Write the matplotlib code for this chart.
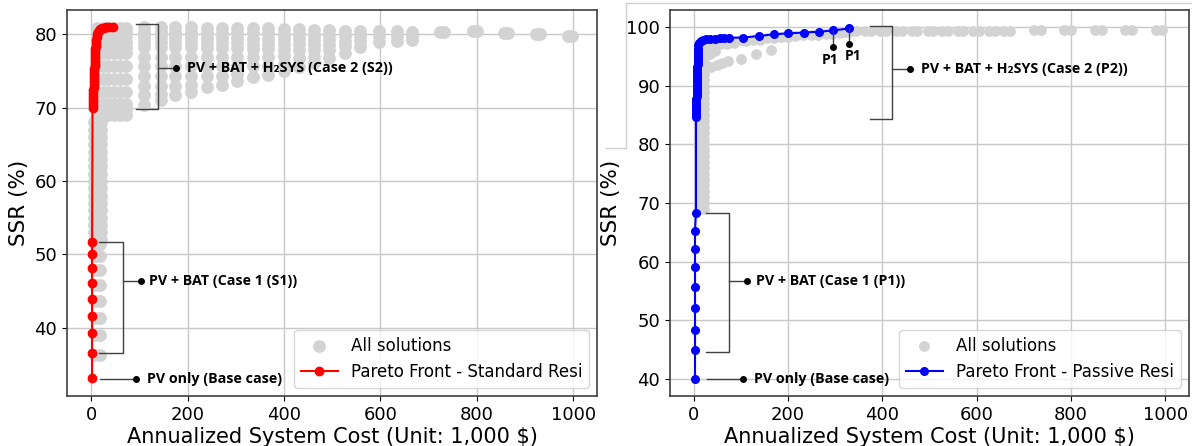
import matplotlib.pyplot as plt
from matplotlib.lines import Line2D
import numpy as np

# ---------------- Standard Resi (left) ----------------
std_front_cost = [2, 2, 2, 2, 2, 2, 2, 2, 2,
                  3, 3.3, 3.6, 3.9, 4.2, 4.5, 4.8, 5.1, 5.4, 5.7, 6, 6.3, 6.6, 6.9, 7.2, 7.5,
                  7.8, 8.1, 8.4, 8.7, 9, 9.5, 10, 10.5, 11.5, 12.5, 14, 16, 19, 22, 26, 31, 37, 45]
std_front_ssr = [33.1, 36.6, 39.3, 41.6, 43.9, 46.1, 48.2, 50.1, 51.7,
                 70.0, 70.4, 70.8, 71.2, 71.6, 72.0, 72.4, 72.8, 73.2, 73.6, 74.0, 74.4, 74.8, 75.2, 75.6, 76.0,
                 76.4, 76.8, 77.2, 77.6, 78.0, 78.4, 78.8, 79.2, 79.6, 80.0, 80.3, 80.5, 80.7, 80.8, 80.9, 80.95, 81.0, 81.0]

std_blob_cost = [9, 18]
std_blob_ssr = [36.3, 39.0, 41.3, 43.6, 45.8, 47.9, 49.8, 51.4]
std_col_cost = [6, 20]
std_col_ssr = [52, 53, 54, 55, 56, 57, 58, 59, 60, 61, 62, 63, 64, 65, 66, 67, 68]
std_block_cost = [12, 24, 36, 48, 60, 72]
std_block_ssr = [69.0, 69.7, 70.5, 72.15, 73.9, 75.7, 77.5, 78.2, 78.9, 79.6, 80.3, 80.9]

std_fan_cost = ([110] * 11 + [145] * 11 + [175] * 10 + [207] * 10 + [241] * 9 + [272] * 9
                + [303] * 9 + [336] * 8 + [367] * 8 + [399] * 8 + [431] * 7 + [463] * 7
                + [494] * 6 + [527] * 5 + [558] * 4 + [597] * 3 + [634] * 3 + [666] * 3
                + [724, 732, 792, 800, 856, 864, 923, 931, 990, 998])
std_fan_ssr = [81.0, 80.3, 79.6, 78.9, 78.2, 76.9, 75.6, 74.3, 73.0, 71.7, 70.4,
               81.0, 80.3, 79.6, 78.9, 78.2, 76.9, 75.6, 74.3, 73.0, 71.9, 71.0,
               81.0, 80.3, 79.6, 78.9, 78.2, 76.9, 75.6, 74.3, 73.0, 71.7,
               81.0, 80.3, 79.6, 78.9, 78.2, 76.9, 75.6, 74.3, 73.1, 72.1,
               80.9, 80.2, 79.5, 78.8, 78.1, 76.9, 75.6, 74.3, 72.8,
               80.9, 80.2, 79.5, 78.8, 78.1, 76.9, 75.6, 74.3, 73.1,
               80.9, 80.2, 79.5, 78.8, 78.1, 76.9, 75.6, 74.6, 73.6,
               80.8, 80.1, 79.4, 78.7, 78.0, 76.9, 75.6, 74.2,
               80.8, 80.1, 79.4, 78.7, 78.0, 76.9, 75.6, 74.5,
               80.7, 80.0, 79.3, 78.6, 77.9, 77.0, 76.0, 75.0,
               80.7, 80.0, 79.3, 78.6, 77.9, 76.7, 75.5,
               80.6, 79.9, 79.2, 78.5, 77.8, 76.9, 76.1,
               80.6, 79.9, 79.2, 78.5, 77.8, 76.8,
               80.5, 79.8, 79.1, 78.4, 77.5,
               80.5, 79.8, 79.1, 78.2,
               80.4, 79.7, 79.0,
               80.4, 79.7, 79.1,
               80.3, 79.7, 79.2,
               80.3, 80.3, 80.4, 80.4, 80.2, 80.2, 80.0, 80.0, 79.8, 79.8]

# ---------------- Passive Resi (right) ----------------
pas_front_cost = [3, 3, 3, 3, 3, 3, 3, 3, 5,
                  5, 5, 5.2, 5.4, 5.6, 5.8, 6, 6.2, 6.4, 6.6, 6.8, 7, 7.2, 7.4, 7.6, 7.8, 8,
                  8.2, 8.4, 8.6, 8.8, 9, 9.2, 9.5, 10,
                  12, 15, 20, 27, 35, 45, 55, 65, 74,
                  104, 138, 170, 201, 234, 266, 296, 329]
pas_front_ssr = [40.0, 44.85, 48.3, 52.0, 55.6, 59.0, 62.2, 65.3, 68.3,
                 84.7, 85.2, 85.7, 86.2, 86.7, 87.2, 87.7, 88.2, 88.7, 89.2, 89.7, 90.2, 90.7, 91.2, 91.7,
                 92.2, 92.7, 93.2, 93.7, 94.2, 94.7, 95.2, 95.7, 96.3, 96.9,
                 97.3, 97.6, 97.8, 97.95, 98.0, 98.05, 98.1, 98.15, 98.2,
                 98.24, 98.5, 98.8, 98.96, 99.1, 99.25, 99.45, 99.8]

pas_col_cost = [12, 21]
pas_col_ssr = [69, 70, 71, 72, 73, 74, 75, 76, 77, 78, 79, 80, 81, 82, 83, 84, 85, 86,
               87, 88, 89, 90, 91, 92, 93, 94, 95, 96]
pas_extra_cost = [25, 37, 49, 61, 73, 15, 25, 35, 45, 20, 30, 40, 55, 70, 85,
                  25, 40, 55, 70, 85, 100, 100, 133, 165,
                  110, 140, 170, 200, 232, 264, 294, 320, 125, 155, 185, 215, 248, 280, 310]
pas_extra_ssr = [93.0, 93.3, 93.6, 93.9, 94.2, 94.5, 95.0, 95.5, 96.0, 96.3, 96.6, 96.9, 97.1, 97.2, 97.3,
                 97.5, 97.55, 97.6, 97.65, 97.7, 97.75, 94.5, 95.4, 96.2,
                 97.6, 97.9, 98.2, 98.4, 98.6, 98.75, 98.9, 99.2, 97.9, 98.1, 98.3, 98.55, 98.7, 98.85, 99.0]
pas_top_cost = [333, 345, 364, 376, 396, 408, 430, 442, 462, 474, 496, 508, 527, 539,
                560, 572, 592, 604, 626, 638, 658, 670, 722, 736, 785, 799, 851, 865, 915, 929, 979, 993]
pas_top_ssr = [99.3, 99.3, 99.3, 99.3, 99.3, 99.3, 99.3, 99.3, 99.3, 99.3, 99.3, 99.3, 99.3, 99.3,
               99.3, 99.3, 99.3, 99.3, 99.3, 99.3, 99.3, 99.3, 99.6, 99.6, 99.6, 99.6, 99.6, 99.6,
               99.6, 99.6, 99.6, 99.6]

GRAY = '#d3d3d3'
ann_font = dict(family=['Open Sans', 'DejaVu Sans'], fontweight='bold', fontsize=10.3)

fig = plt.figure(figsize=(11.92, 4.46), dpi=100)
ax1 = fig.add_axes([0.0562, 0.1121, 0.4450, 0.8655])
ax2 = fig.add_axes([0.5621, 0.1121, 0.4354, 0.8655])


def bracket(ax, x0, x1, top, bottom, mid, xdot, xtext, label):
    ax.plot([x0, x1, x1, x0], [top, top, bottom, bottom], color='#404040', lw=1, zorder=6)
    ax.plot([x1, xdot], [mid, mid], color='#404040', lw=1, zorder=6)
    ax.plot(xdot, mid, 'o', color='black', ms=4, zorder=6)
    ax.text(xtext, mid, label, ha='left', va='center', zorder=7, **ann_font)


def pointer(ax, x0, xdot, y, xtext, label):
    ax.plot([x0, xdot], [y, y], color='#404040', lw=1, zorder=6)
    ax.plot(xdot, y, 'o', color='black', ms=4, zorder=6)
    ax.text(xtext, y, label, ha='left', va='center', zorder=7, **ann_font)


# left panel
bx, by = np.meshgrid(std_blob_cost, std_blob_ssr)
cx, cy = np.meshgrid(std_col_cost, std_col_ssr)
kx, ky = np.meshgrid(std_block_cost, std_block_ssr)
all_x = np.concatenate([bx.ravel(), cx.ravel(), kx.ravel(), std_fan_cost])
all_y = np.concatenate([by.ravel(), cy.ravel(), ky.ravel(), std_fan_ssr])
ax1.scatter(all_x, all_y, s=85, color=GRAY, linewidths=0, zorder=2, label='All solutions')
ax1.plot(std_front_cost, std_front_ssr, 'o-', color='red', ms=6, lw=1.5, zorder=4,
         label='Pareto Front - Standard Resi')
bracket(ax1, 93.6, 139.6, 81.36, 69.8, 75.36, 176.6, 198, 'PV + BAT + H₂SYS (Case 2 (S2))')
bracket(ax1, 16.7, 65.8, 51.64, 36.5, 46.4, 103, 121, 'PV + BAT (Case 1 (S1))')
pointer(ax1, 18, 93.6, 33.05, 116, 'PV only (Base case)')
ax1.set_xlim(-50, 1050)
ax1.set_ylim(30.7, 83.3)

# right panel
pcx, pcy = np.meshgrid(pas_col_cost, pas_col_ssr)
all_x2 = np.concatenate([pcx.ravel(), pas_extra_cost, pas_top_cost])
all_y2 = np.concatenate([pcy.ravel(), pas_extra_ssr, pas_top_ssr])
ax2.scatter(all_x2, all_y2, s=60, color=GRAY, linewidths=0, zorder=2, label='All solutions')
ax2.plot(pas_front_cost, pas_front_ssr, 'o-', color='blue', ms=5.5, lw=1.5, zorder=4,
         label='Pareto Front - Passive Resi')
bracket(ax2, 373, 421, 100.2, 84.4, 92.8, 458.5, 482, 'PV + BAT + H₂SYS (Case 2 (P2))')
bracket(ax2, 27, 75, 68.36, 44.6, 56.7, 113, 133, 'PV + BAT (Case 1 (P1))')
pointer(ax2, 29, 105, 40.0, 127, 'PV only (Base case)')
for px, py_top, py_dot, tx, ty in [(296, 99.45, 96.7, 289, 94.4), (329, 99.8, 97.15, 338, 95.15)]:
    ax2.plot([px, px], [py_top, py_dot], color='#404040', lw=1, zorder=6)
    ax2.plot(px, py_dot, 'o', color='black', ms=4, zorder=6)
    ax2.text(tx, ty, 'P1', ha='center', va='center', zorder=7,
             family=['Open Sans', 'DejaVu Sans'], fontweight='bold', fontsize=10)
ax2.set_xlim(-50, 1050)
ax2.set_ylim(37.05, 102.95)

for ax in (ax1, ax2):
    ax.set_axisbelow(True)
    ax.grid(True, color='#c8c8c8', lw=1)
    ax.set_xticks([0, 200, 400, 600, 800, 1000])
    ax.tick_params(labelsize=13)
    ax.set_xlabel('Annualized System Cost (Unit: 1,000 $)', fontsize=15, labelpad=2)
    ax.set_ylabel('SSR (%)', fontsize=15.5, labelpad=4)
    for sp in ax.spines.values():
        sp.set_color('#404040')
        sp.set_linewidth(1.2)
    ax.legend(loc='lower right', fontsize=12, borderpad=0.4, handlelength=2.2)

# frame lines of the pasted right picture
fig.add_artist(Line2D([0.525, 1.0], [0.994, 0.994], color='#d0d0d0', lw=1))
fig.add_artist(Line2D([0.525, 0.525], [0.994, 0.668], color='#d0d0d0', lw=1))
fig.add_artist(Line2D([0.508, 0.525], [0.668, 0.668], color='#d0d0d0', lw=1))

fig.savefig('out.png', dpi=100)
